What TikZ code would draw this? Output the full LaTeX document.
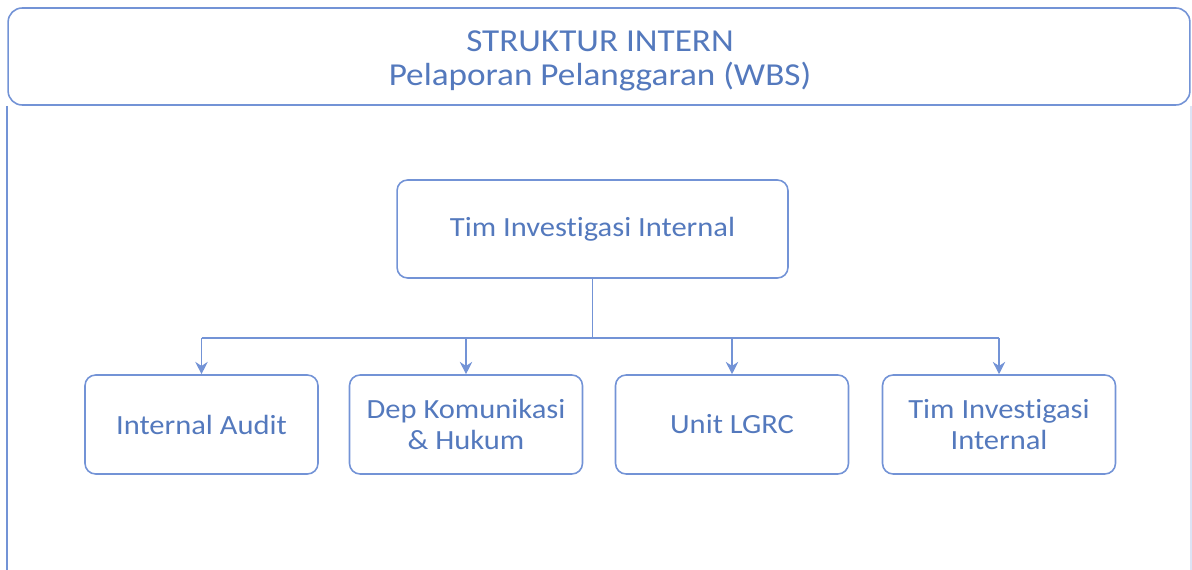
\documentclass[tikz,border=0pt]{standalone}
\usepackage{fontspec}
\setmainfont[Ligatures=NoCommon, FakeStretch=1.1]{Carlito}
\usepackage{tikz}
\usetikzlibrary{arrows, arrows.meta, shapes, positioning}
\tikzset{>=stealth}
\definecolor{wbsline}{HTML}{7393D6}
\definecolor{wbstext}{HTML}{5479BD}
\tikzset{
  unitbox/.style={draw=wbsline, line width=0.9pt, rounded corners=6pt,
    text=wbstext, align=center, font=\fontsize{15.8}{17.5}\selectfont,
    minimum width=4.66cm, minimum height=1.98cm, inner sep=0pt},
  wire/.style={draw=wbsline, line width=1.1pt},
}

\begin{document}
\begin{tikzpicture}[x=0.02cm, y=-0.02cm]
      \useasboundingbox (0, 0) rectangle (1192, 570);

      % header and frame
      \node (hdr) at (599, 56.5) [draw=wbsline, line width=0.9pt, rounded corners=8pt,
        minimum width=23.64cm, minimum height=1.94cm] {};
      \node (title) at (600, 61) [text=wbstext, align=center,
        font=\fontsize{18.2}{19}\selectfont] {STRUKTUR INTERN\\Pelaporan Pelanggaran (WBS)};
      \coordinate (bottom) at (0, 570);
      \draw [wbsline, line width=1pt] (hdr.south west) -- (hdr.south west |- bottom);
      \draw [wbsline!25, line width=1pt] (hdr.south east) -- (hdr.south east |- bottom);

      % boxes
      \node (tim) at (592.5, 229) [unitbox, minimum width=7.82cm, minimum height=1.96cm] {Tim Investigasi Internal};
      \node (audit) at (201.5, 424.5) [unitbox] {Internal Audit};
      \node (dep) at (466, 424.5) [unitbox] {Dep Komunikasi\\\& Hukum};
      \node (lgrc) at (732, 424.5) [unitbox] {Unit LGRC};
      \node (tii) at (999, 424.5) [unitbox] {Tim Investigasi\\Internal};

      % connectors
      \coordinate (bus) at (592.5, 338);
      \draw [wire] (tim.south) -- (bus);
      \draw [wire] (audit.north |- bus) -- (tii.north |- bus);
      \foreach \n in {audit, dep, lgrc, tii}
        \draw [wire, -{Stealth[length=7pt, width=7pt]}] (\n.north |- bus) -- (\n.north);
    \end{tikzpicture}
\end{document}
